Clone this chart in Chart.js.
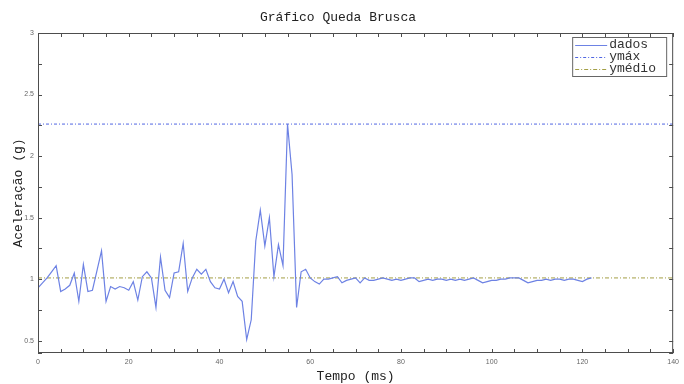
<!DOCTYPE html>
<html>
<head>
<meta charset="utf-8">
<title>Gráfico Queda Brusca</title>
<script src="https://cdn.jsdelivr.net/npm/chart.js@4/dist/chart.umd.min.js"></script>
<style>
    body { margin: 0; background: #ffffff; }
    #box { width: 684px; height: 384px; }
</style>
</head>
<body>
<div id="box"><canvas id="grafico" width="684" height="384"></canvas></div>
<script>
// Dados (tempo em ms, aceleração em g)
const tempo = [
    0, 1, 2, 3, 4, 5, 6, 7, 8, 9, 10, 11, 12, 13, 14, 15, 16, 17, 18, 19,
    20, 21, 22, 23, 24, 25, 26, 27, 28, 29, 30, 31, 32, 33, 34, 35, 36, 37, 38, 39,
    40, 41, 42, 43, 44, 45, 46, 47, 48, 49, 50, 51, 52, 53, 54, 55, 56, 57, 58, 59,
    60, 61, 62, 63, 64, 65, 66, 67, 68, 69, 70, 71, 72, 73, 74, 75, 76, 77, 78, 79,
    80, 81, 82, 83, 84, 85, 86, 87, 88, 89, 90, 91, 92, 93, 94, 95, 96, 97, 98, 99,
    100, 101, 102, 103, 104, 105, 106, 107, 108, 109, 110, 111, 112, 113, 114, 115, 116, 117, 118, 119,
    120, 121, 122
];
const aceleracao = [
    0.93, 0.97, 1.01, 1.06, 1.11, 0.90, 0.92, 0.95, 1.05, 0.82, 1.12, 0.90, 0.91, 1.07, 1.23, 0.82, 0.94, 0.92, 0.94, 0.93,
    0.91, 0.98, 0.83, 1.02, 1.06, 1.01, 0.77, 1.18, 0.91, 0.85, 1.05, 1.06, 1.29, 0.90, 1.01, 1.08, 1.04, 1.08, 0.98, 0.93,
    0.92, 1.00, 0.89, 0.98, 0.86, 0.82, 0.51, 0.67, 1.31, 1.56, 1.27, 1.50, 1.02, 1.28, 1.11, 2.26, 1.85, 0.77, 1.06, 1.08,
    1.01, 0.98, 0.96, 1.00, 1.00, 1.01, 1.02, 0.97, 0.99, 1.00, 1.01, 0.97, 1.01, 0.99, 0.99, 1.00, 1.01, 1.00, 0.99, 1.00,
    0.99, 1.00, 1.01, 1.01, 0.98, 0.99, 1.00, 0.99, 1.00, 1.00, 0.99, 1.00, 0.99, 1.00, 0.99, 1.00, 1.01, 0.99, 0.97, 0.98,
    0.99, 0.99, 1.00, 1.00, 1.01, 1.01, 1.01, 0.99, 0.97, 0.98, 0.99, 0.99, 1.00, 0.99, 1.00, 1.00, 0.99, 1.00, 1.00, 0.99,
    0.98, 1.00, 1.01
];
const yMax = 2.26;
const yMedio = 1.01;
const limitesX = [0, 140];
const limitesY = [0.4, 3];
const passoX = 5;       // marcas menores
const rotuloX = 20;     // marcas com rótulo
const passoY = 0.25;
const rotuloY = 0.5;

const fonteMono = '"Courier New", "Liberation Mono", monospace';

function multiplo(v, passo) {
    const r = v / passo;
    return Math.abs(r - Math.round(r)) < 1e-6;
}

// Moldura e marcas para dentro, estilo MATLAB
const quadroPlugin = {
    id: 'quadro',
    afterDatasetsDraw(chart) {
        const { ctx, chartArea: a, scales: { x, y } } = chart;
        ctx.save();
        ctx.strokeStyle = '#4d4d4d';
        ctx.lineWidth = 1;
        ctx.strokeRect(a.left + 0.5, a.top + 0.5, a.width - 1, a.height - 1);
        ctx.beginPath();
        x.ticks.forEach(t => {
            const px = Math.round(x.getPixelForValue(t.value)) + 0.5;
            ctx.moveTo(px, a.bottom);
            ctx.lineTo(px, a.bottom - 4);
            ctx.moveTo(px, a.top);
            ctx.lineTo(px, a.top + 4);
        });
        y.ticks.forEach(t => {
            const py = Math.round(y.getPixelForValue(t.value)) + 0.5;
            ctx.moveTo(a.left, py);
            ctx.lineTo(a.left + 4, py);
            ctx.moveTo(a.right, py);
            ctx.lineTo(a.right - 4, py);
        });
        ctx.stroke();
        ctx.restore();
    }
};

// Legenda dentro da área do gráfico (canto superior direito)
const legendaPlugin = {
    id: 'legendaInterna',
    afterDraw(chart) {
        const { ctx, chartArea: a } = chart;
        const w = 95, h = 40;
        const x0 = a.right - 6 - w;
        const y0 = a.top + 4;
        ctx.save();
        ctx.fillStyle = '#ffffff';
        ctx.fillRect(x0, y0, w, h);
        ctx.strokeStyle = '#666666';
        ctx.lineWidth = 1;
        ctx.strokeRect(x0 + 0.5, y0 + 0.5, w - 1, h - 1);
        ctx.font = '13px ' + fonteMono;
        ctx.textBaseline = 'middle';
        chart.data.datasets.forEach((ds, i) => {
            const cy = y0 + 8 + i * 12;
            ctx.strokeStyle = ds.borderColor;
            ctx.lineWidth = ds.borderWidth;
            ctx.setLineDash(ds.borderDash || []);
            ctx.beginPath();
            ctx.moveTo(x0 + 3, cy + 0.5);
            ctx.lineTo(x0 + 35, cy + 0.5);
            ctx.stroke();
            ctx.setLineDash([]);
            ctx.fillStyle = '#333333';
            ctx.fillText(ds.label, x0 + 37, cy);
        });
        ctx.restore();
    }
};

const ctx = document.getElementById('grafico').getContext('2d');
new Chart(ctx, {
    type: 'line',
    data: {
        datasets: [
            {
                label: 'dados',
                data: tempo.map((t, i) => ({ x: t, y: aceleracao[i] })),
                borderColor: '#6d82e4',
                borderWidth: 1.2,
                pointRadius: 0,
                tension: 0
            },
            {
                label: 'ymáx',
                data: limitesX.map(t => ({ x: t, y: yMax })),
                borderColor: '#5066e2',
                borderWidth: 1,
                borderDash: [3, 2, 1, 2],
                pointRadius: 0
            },
            {
                label: 'ymédio',
                data: limitesX.map(t => ({ x: t, y: yMedio })),
                borderColor: '#a39f45',
                borderWidth: 1,
                borderDash: [4, 2, 1, 2],
                pointRadius: 0
            }
        ]
    },
    options: {
        responsive: false,
        animation: false,
        layout: { padding: { left: 0, right: 8, top: 0, bottom: 0 } },
        plugins: {
            legend: { display: false },
            tooltip: { enabled: false },
            title: {
                display: true,
                text: 'Gráfico Queda Brusca',
                color: '#222222',
                font: { family: fonteMono, size: 13, weight: 'normal' },
                padding: { top: 10, bottom: 7.4 }
            }
        },
        scales: {
            x: {
                type: 'linear',
                min: limitesX[0],
                max: limitesX[1],
                grid: { display: false, drawTicks: false },
                border: { display: false },
                ticks: {
                    stepSize: passoX,
                    autoSkip: false,
                    maxRotation: 0,
                    padding: 5,
                    color: '#666666',
                    font: { family: 'Liberation Sans', size: 7 },
                    callback: v => multiplo(v, rotuloX) ? String(v) : ''
                },
                title: {
                    display: true,
                    text: 'Tempo (ms)',
                    color: '#222222',
                    font: { family: fonteMono, size: 13 },
                    padding: { top: 0, bottom: 0 }
                },
                afterFit: s => { s.height = 31; }
            },
            y: {
                min: limitesY[0],
                max: limitesY[1],
                grid: { display: false, drawTicks: false },
                border: { display: false },
                ticks: {
                    stepSize: passoY,
                    autoSkip: false,
                    padding: 4,
                    color: '#666666',
                    font: { family: 'Liberation Sans', size: 7 },
                    callback: v => multiplo(v, rotuloY) ? String(Math.round(v * 10) / 10) : ''
                },
                title: {
                    display: true,
                    text: 'Aceleração (g)',
                    color: '#222222',
                    font: { family: fonteMono, size: 13 },
                    padding: { top: 11, bottom: 0 }
                },
                afterFit: s => { s.width = 38; }
            }
        }
    },
    plugins: [quadroPlugin, legendaPlugin]
});
</script>
</body>
</html>
